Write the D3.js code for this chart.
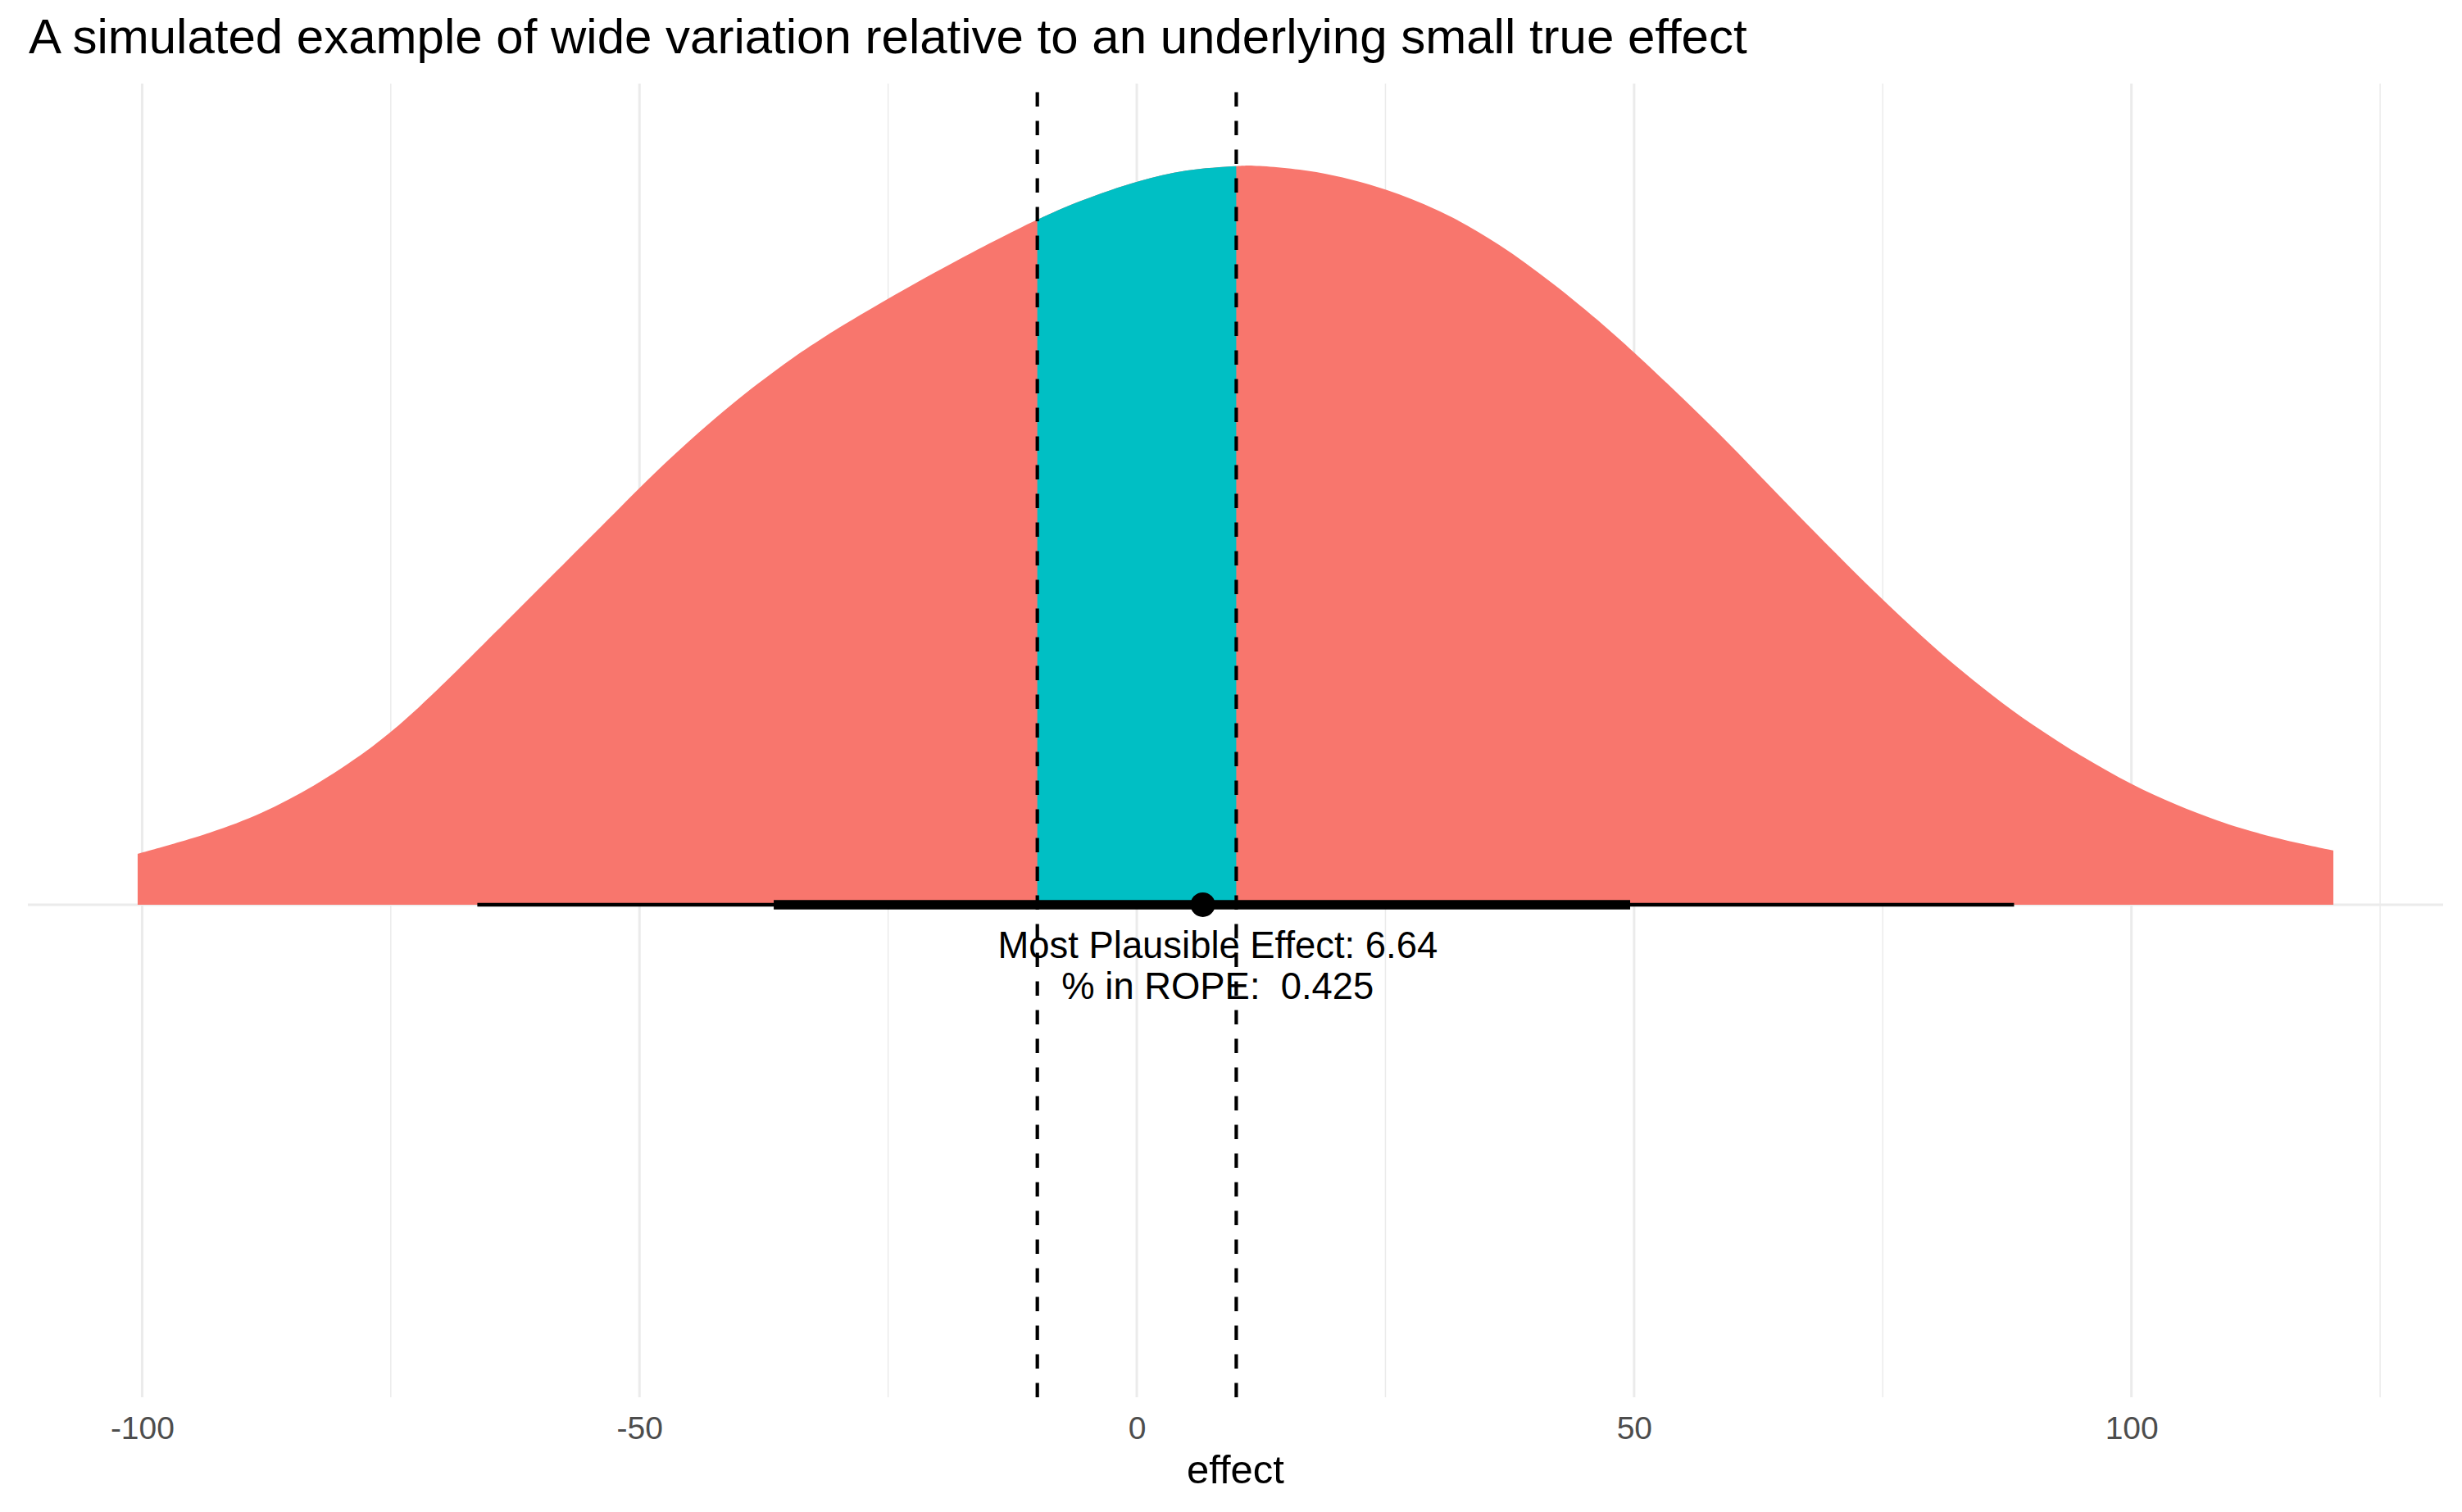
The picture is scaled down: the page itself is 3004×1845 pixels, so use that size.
<!DOCTYPE html>
<html>
<head>
<meta charset="utf-8">
<script src="https://cdn.jsdelivr.net/npm/d3@7"></script>
<style>
  html, body { margin: 0; padding: 0; background: #ffffff; }
  svg { display: block; }
  text { font-family: "Liberation Sans", Arial, Helvetica, sans-serif; white-space: pre; }
</style>
</head>
<body>
<script>
// ---------------- data ----------------
const titleText = "A simulated example of wide variation relative to an underlying small true effect";
const xAxisTitle = "effect";

// posterior density of the effect (relative height, peak = 1)
const densityX = [-100.45, -93.24, -87.99, -82.73, -77.48, -74.85, -72.22, -69.59, -64.34, -59.09,
                  -53.83, -49.89, -45.95, -40.69, -35.44, -31.86, -25.03, -18.73, -10.05, -5.59,
                  0.19, 4.92, 10.02, 11.75, 18.06, 25.05, 31.2, 36.45, 41.71, 46.96,
                  50.54, 58.45, 66.36, 74.97, 82.19, 90.1, 100.0, 108.6, 114.5, 120.3];
const densityY = [0.0686, 0.0971, 0.1243, 0.1612, 0.2078, 0.2355, 0.2667, 0.3003, 0.3705, 0.4412,
                  0.5120, 0.5651, 0.6156, 0.6773, 0.7316, 0.7644, 0.8196, 0.8668, 0.9266, 0.9525,
                  0.9789, 0.9932, 0.9993, 1.0, 0.9912, 0.9674, 0.9334, 0.8926, 0.8416, 0.7838,
                  0.7405, 0.6384, 0.5289, 0.4133, 0.3249, 0.2434, 0.1634, 0.1140, 0.0905, 0.0734];

const ropeBounds = [-10, 10];
const interval66 = [-36.5, 49.6];
const interval95 = [-66.3, 88.2];
const pointEstimate = 6.64;
const ropeShare = 0.425;
const annotationLines = ["Most Plausible Effect: " + pointEstimate, "% in ROPE:  " + ropeShare];
const annotationX = 8.14;

const xMajorTicks = [-100, -50, 0, 50, 100];
const xMinorTicks = [-75, -25, 25, 75, 125];

const colOutside = "#F8766D";
const colInside = "#00BFC4";

// ---------------- layout ----------------
const W = 3004, H = 1845;
const panel = { left: 34, right: 2981, top: 102, bottom: 1705 };

const svg = d3.select("body").append("svg")
  .attr("width", W).attr("height", H)
  .attr("viewBox", `0 0 ${W} ${H}`);

svg.append("rect").attr("width", W).attr("height", H).attr("fill", "#ffffff");

const ext = d3.extent(densityX);
const span = ext[1] - ext[0];
const x = d3.scaleLinear()
  .domain([ext[0] - 0.05 * span, ext[1] + 0.05 * span])
  .range([panel.left, panel.right]);

const y = d3.scaleLinear()
  .domain([-0.6, 1.0])
  .range([panel.bottom, panel.top]);

const slabScale = 0.9;

// ---------------- grid ----------------
const grid = svg.append("g");
grid.selectAll("line.minor").data(xMinorTicks.filter(d => x(d) >= panel.left && x(d) <= panel.right))
  .join("line")
  .attr("x1", d => x(d)).attr("x2", d => x(d))
  .attr("y1", panel.top).attr("y2", panel.bottom)
  .attr("stroke", "#EBEBEB").attr("stroke-width", 1.5);
grid.selectAll("line.major").data(xMajorTicks)
  .join("line")
  .attr("x1", d => x(d)).attr("x2", d => x(d))
  .attr("y1", panel.top).attr("y2", panel.bottom)
  .attr("stroke", "#EBEBEB").attr("stroke-width", 3);
grid.append("line")
  .attr("x1", panel.left).attr("x2", panel.right)
  .attr("y1", y(0)).attr("y2", y(0))
  .attr("stroke", "#EBEBEB").attr("stroke-width", 3);

// ---------------- slab ----------------
const dens = densityX.map((v, i) => ({ x: v, d: densityY[i] }));
const area = d3.area()
  .x(d => x(d.x))
  .y0(y(0))
  .y1(d => y(slabScale * d.d))
  .curve(d3.curveCatmullRom.alpha(0.5));

svg.append("path").datum(dens)
  .attr("d", area)
  .attr("fill", colOutside);

svg.append("clipPath").attr("id", "ropeClip")
  .append("rect")
  .attr("x", x(ropeBounds[0])).attr("width", x(ropeBounds[1]) - x(ropeBounds[0]))
  .attr("y", panel.top).attr("height", panel.bottom - panel.top);

svg.append("path").datum(dens)
  .attr("d", area)
  .attr("fill", colInside)
  .attr("clip-path", "url(#ropeClip)");

// ---------------- interval + point ----------------
svg.append("line")
  .attr("x1", x(interval95[0])).attr("x2", x(interval95[1]))
  .attr("y1", y(0)).attr("y2", y(0))
  .attr("stroke", "#000").attr("stroke-width", 4.5);
svg.append("line")
  .attr("x1", x(interval66[0])).attr("x2", x(interval66[1]))
  .attr("y1", y(0)).attr("y2", y(0))
  .attr("stroke", "#000").attr("stroke-width", 11.5);
svg.append("circle")
  .attr("cx", x(pointEstimate)).attr("cy", y(0))
  .attr("r", 15).attr("fill", "#000");

// ---------------- ROPE dashed lines ----------------
svg.selectAll("line.rope").data(ropeBounds)
  .join("line")
  .attr("x1", d => x(d)).attr("x2", d => x(d))
  .attr("y1", panel.bottom).attr("y2", panel.top)
  .attr("stroke", "#000").attr("stroke-width", 4.2)
  .attr("stroke-dasharray", "17.5,17.5");

// ---------------- annotation ----------------
svg.selectAll("text.ann").data(annotationLines)
  .join("text")
  .attr("x", x(annotationX))
  .attr("y", (d, i) => 1169 + i * 50)
  .attr("text-anchor", "middle")
  .attr("font-size", 45.4)
  .attr("fill", "#000")
  .attr("xml:space", "preserve")
  .text(d => d);

// ---------------- x axis ----------------
const axis = d3.axisBottom(x)
  .tickValues(xMajorTicks)
  .tickSize(0)
  .tickPadding(23)
  .tickFormat(d => String(d));
const gAxis = svg.append("g")
  .attr("transform", `translate(0,${panel.bottom})`)
  .call(axis);
gAxis.select(".domain").remove();
gAxis.selectAll("text")
  .attr("font-size", 39)
  .attr("font-family", '"Liberation Sans", Arial, Helvetica, sans-serif')
  .attr("fill", "#4D4D4D");

svg.append("text")
  .attr("x", (panel.left + panel.right) / 2)
  .attr("y", 1810)
  .attr("text-anchor", "middle")
  .attr("font-size", 49)
  .attr("fill", "#000")
  .text(xAxisTitle);

// ---------------- title ----------------
svg.append("text")
  .attr("x", 35)
  .attr("y", 65)
  .attr("font-size", 60)
  .attr("fill", "#000")
  .text(titleText);
</script>
</body>
</html>
